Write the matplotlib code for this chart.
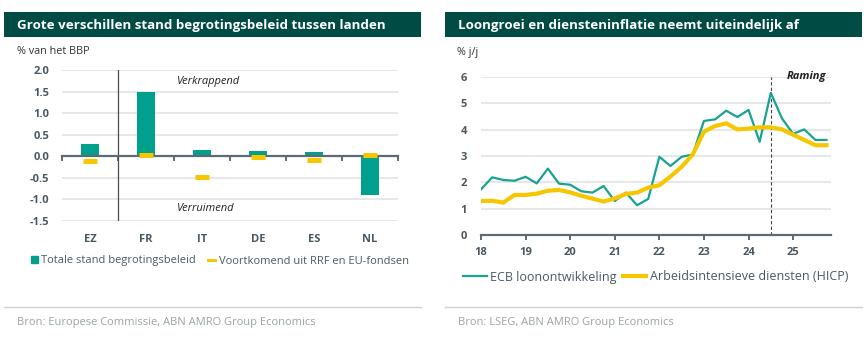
import numpy as np
import matplotlib.pyplot as plt
from matplotlib.lines import Line2D
from matplotlib.patches import Patch, Rectangle

plt.rcParams['font.family'] = ['Open Sans', 'DejaVu Sans']
plt.rcParams['axes.unicode_minus'] = False

W, H, DPI = 864, 344, 100

TITLE_BG = '#004B43'
TEAL = '#00A08C'
TEAL_LINE = '#17A291'
YELLOW = '#F6C700'
TICK = '#4A5861'
AXIS = '#5D6A72'
GRID = '#E3E5E6'
SOURCE = '#9AA3A8'
PT = 72 / DPI  # pixels -> points

# fiscal stance per country (% of GDP)
countries = ['EZ', 'FR', 'IT', 'DE', 'ES', 'NL']
fiscal_total = [0.28, 1.48, 0.14, 0.12, 0.09, -0.90]
fiscal_rrf = [-0.11, 0.02, -0.49, -0.02, -0.08, 0.04]
fiscal_yticks = [-1.5, -1.0, -0.5, 0.0, 0.5, 1.0, 1.5, 2.0]

# quarterly, % y/y, 2018Q1 - 2025Q4
quarters = 2018 + 0.25 * np.arange(32)
wages = [1.73, 2.19, 2.09, 2.06, 2.21, 1.96, 2.52, 1.95,
         1.91, 1.66, 1.61, 1.86, 1.29, 1.61, 1.13, 1.37,
         2.97, 2.62, 2.97, 3.06, 4.33, 4.39, 4.72, 4.48,
         4.75, 3.54, 5.40, 4.43, 3.84, 4.01, 3.61, 3.61]
services = [1.29, 1.30, 1.23, 1.52, 1.52, 1.57, 1.68, 1.71,
            1.62, 1.49, 1.38, 1.27, 1.39, 1.56, 1.61, 1.80,
            1.89, 2.22, 2.59, 3.06, 3.92, 4.14, 4.24, 4.01,
            4.04, 4.09, 4.09, 4.01, 3.81, 3.61, 3.41, 3.41]
years = [2018, 2019, 2020, 2021, 2022, 2023, 2024, 2025]
forecast_start = 2024.5

fig = plt.figure(figsize=(W / DPI, H / DPI), dpi=DPI)


def px_axes(x0, y_top, x1, y_bot):
    return fig.add_axes([x0 / W, 1 - y_bot / H, (x1 - x0) / W, (y_bot - y_top) / H])


def panel_frame(x0, x1, title, source):
    fig.add_artist(Rectangle((x0 / W, 1 - 37 / H), (x1 - x0) / W, 25 / H,
                             transform=fig.transFigure, color=TITLE_BG, lw=0))
    fig.text((x0 + 13) / W, 1 - 25 / H, title, color='white', fontsize=9.6,
             fontweight='bold', va='center', ha='left')
    fig.add_artist(Line2D([x0 / W, x1 / W], [1 - 307 / H] * 2,
                          transform=fig.transFigure, color='#CDD1D3', lw=1))
    fig.text((x0 + 13) / W, 1 - 322.5 / H, source, color=SOURCE, fontsize=8,
             va='center', ha='left')


panel_frame(4, 421, 'Grote verschillen stand begrotingsbeleid tussen landen',
            'Bron: Europese Commissie, ABN AMRO Group Economics')
panel_frame(445, 862, 'Loongroei en diensteninflatie neemt uiteindelijk af',
            'Bron: LSEG, ABN AMRO Group Economics')

# ---- left: bars + RRF markers
ax = px_axes(62, 70, 398, 221)
ax.set_xlim(-0.5, 5.5)
ax.set_ylim(-1.5, 2.0)
x = np.arange(len(countries))
ax.bar(x, fiscal_total, width=0.31, color=TEAL, zorder=3)
ax.plot(x, fiscal_rrf, ls='none', marker='_', ms=14 * PT, mew=5 * PT,
        color=YELLOW, zorder=4)
ax.axvline(0.5, color='#4D4D4D', lw=0.9, zorder=2)

ax.set_yticks(fiscal_yticks)
ax.set_yticklabels([f'{v:.1f}' for v in fiscal_yticks])
ax.yaxis.grid(True, color=GRID, lw=1.3, zorder=0)
ax.set_axisbelow(True)
ax.tick_params(axis='y', length=0, pad=13 * PT, labelsize=8, labelcolor=TICK)
for s in ['left', 'right', 'top']:
    ax.spines[s].set_visible(False)
ax.spines['bottom'].set_position(('data', 0))
ax.spines['bottom'].set_color(AXIS)
ax.spines['bottom'].set_linewidth(1.6)
ax.spines['bottom'].set_zorder(3.5)
ax.set_xticks(x)
ax.set_xticklabels(countries)
ax.set_xticks(np.arange(-0.5, 6, 1), minor=True)
ax.tick_params(axis='x', which='major', length=0, pad=56, labelsize=8,
               labelcolor=TICK)
ax.tick_params(axis='x', which='minor', length=5 * PT, width=1.4, color=AXIS,
               direction='out')
for lab in ax.get_xticklabels() + ax.get_yticklabels():
    lab.set_fontweight('bold')

ax.text(1.55, 1.74, 'Verkrappend', ha='left', va='center', fontsize=8,
        fontstyle='italic', color='#222222')
ax.text(1.55, -1.22, 'Verruimend', ha='left', va='center', fontsize=8,
        fontstyle='italic', color='#222222')
fig.text(17 / W, 1 - 52 / H, '% van het BBP', fontsize=7.8, color='#333333',
         va='center', ha='left')

fig.legend(handles=[Patch(color=TEAL), Line2D([0], [0], color=YELLOW, lw=3 * PT)],
           labels=['Totale stand begrotingsbeleid', 'Voortkomend uit RRF en EU-fondsen'],
           loc='center left', bbox_to_anchor=(31 / W, 1 - 261 / H), ncol=2,
           frameon=False, fontsize=8, borderpad=0, borderaxespad=0,
           handlelength=0.63, handleheight=0.63, handletextpad=0.3,
           columnspacing=1.1, labelcolor=TICK)

# ---- right: wages vs labour-intensive services
ax2 = px_axes(481, 77, 831, 235)
ax2.set_xlim(2018, 2025.85)
ax2.set_ylim(0, 6)
ax2.plot(quarters, wages, color=TEAL_LINE, lw=1.6, zorder=3)
ax2.plot(quarters, services, color=YELLOW, lw=3, zorder=4)
ax2.axvline(forecast_start, color='#444444', lw=0.8, ls=(0, (3, 2)), zorder=2)
ax2.text(2025.74, 6.0, 'Raming', ha='right', va='center', fontsize=8,
         fontstyle='italic', fontweight='bold', color='#222222')

ax2.set_yticks(range(0, 7))
ax2.yaxis.grid(True, color=GRID, lw=1.3, zorder=0)
ax2.set_axisbelow(True)
ax2.tick_params(axis='y', length=0, pad=14 * PT, labelsize=8, labelcolor=TICK)
ax2.set_xticks(years)
ax2.set_xticklabels([str(y)[2:] for y in years])
ax2.tick_params(axis='x', length=5 * PT, width=1.4, color=AXIS, pad=5,
                labelsize=8, labelcolor=TICK)
for lab in ax2.get_xticklabels() + ax2.get_yticklabels():
    lab.set_fontweight('bold')
for s in ['left', 'right', 'top']:
    ax2.spines[s].set_visible(False)
ax2.spines['bottom'].set_color(AXIS)
ax2.spines['bottom'].set_linewidth(1.6)
fig.text(457 / W, 1 - 52 / H, '% j/j', fontsize=7.8, color='#333333',
         va='center', ha='left')

fig.legend(handles=[Line2D([0], [0], color=TEAL_LINE, lw=1.6),
                    Line2D([0], [0], color=YELLOW, lw=3)],
           labels=['ECB loonontwikkeling', 'Arbeidsintensieve diensten (HICP)'],
           loc='center left', bbox_to_anchor=(463 / W, 1 - 277 / H), ncol=2,
           frameon=False, fontsize=9, borderpad=0, borderaxespad=0,
           handlelength=1.9, handletextpad=0.3, columnspacing=0.45,
           labelcolor=TICK)

fig.savefig('out.png', dpi=DPI)
